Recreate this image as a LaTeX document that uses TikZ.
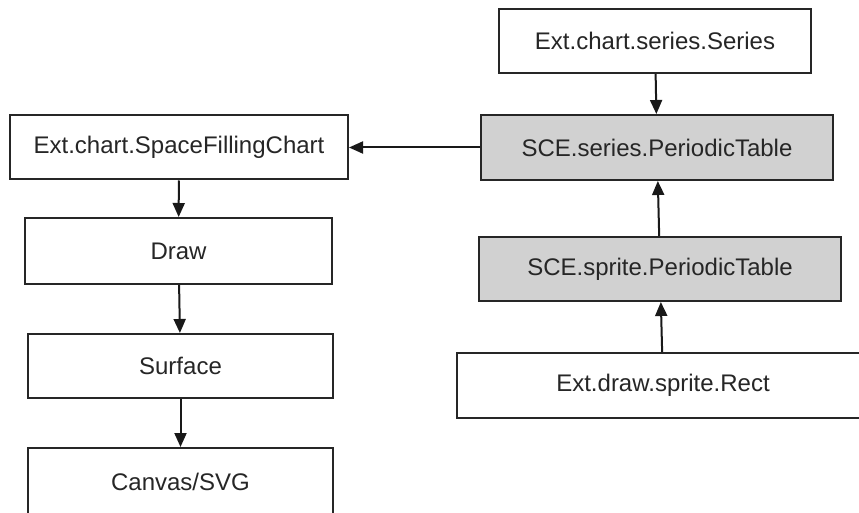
\documentclass[tikz,border=0pt]{standalone}
\usepackage{fontspec}
\setmainfont{Liberation Sans}
\usetikzlibrary{arrows.meta}
\def\px{0.75pt}
\tikzset{
  box/.style={draw=black!85, line width=1.5pt, fill=white, inner sep=0pt,
    font=\fontsize{18}{22}\selectfont, text=black!85},
  grey/.style={box, fill=black!18},
  arr/.style={-{Triangle[length=10.5pt,width=9pt]}, line width=1.5pt, draw=black!90},
}
\begin{document}
\begin{tikzpicture}[x=0.75pt,y=-0.75pt]
\useasboundingbox (0,0) rectangle (859,513);
\fill[white] (0,0) rectangle (859,513);
\clip (0,0) rectangle (859,513);
\node[box, minimum width=312*\px, minimum height=64*\px] (series) at (655,41) {Ext.chart.series.Series};
\node[grey, minimum width=352*\px, minimum height=65*\px] (sceSeries) at (657,147.5) {SCE.series.PeriodicTable};
\node[box, minimum width=338*\px, minimum height=64*\px] (sfc) at (179,147.5) {Ext.chart.SpaceFillingChart};
\node[box, minimum width=307*\px, minimum height=66*\px] (drawbox) at (178.5,251) {Draw};
\node[box, minimum width=305*\px, minimum height=64*\px] (surface) at (180.5,366) {Surface};
\node[box, minimum width=305*\px, minimum height=68*\px] (canvas) at (180.5,482) {Canvas/SVG};
\node[grey, minimum width=362*\px, minimum height=64*\px] (sprite) at (660,269) {SCE.sprite.PeriodicTable};
\node[box, minimum width=412*\px, minimum height=65*\px] (rect) at (663,385.5) {Ext.draw.sprite.Rect};
\draw[arr] (series) -- (sceSeries);
\draw[arr] (sceSeries) -- (sfc);
\draw[arr] (sfc) -- (drawbox);
\draw[arr] (drawbox) -- (surface);
\draw[arr] (surface) -- (canvas);
\draw[arr] (sprite) -- (sceSeries);
\draw[arr] (rect) -- (sprite);
\end{tikzpicture}
\end{document}
